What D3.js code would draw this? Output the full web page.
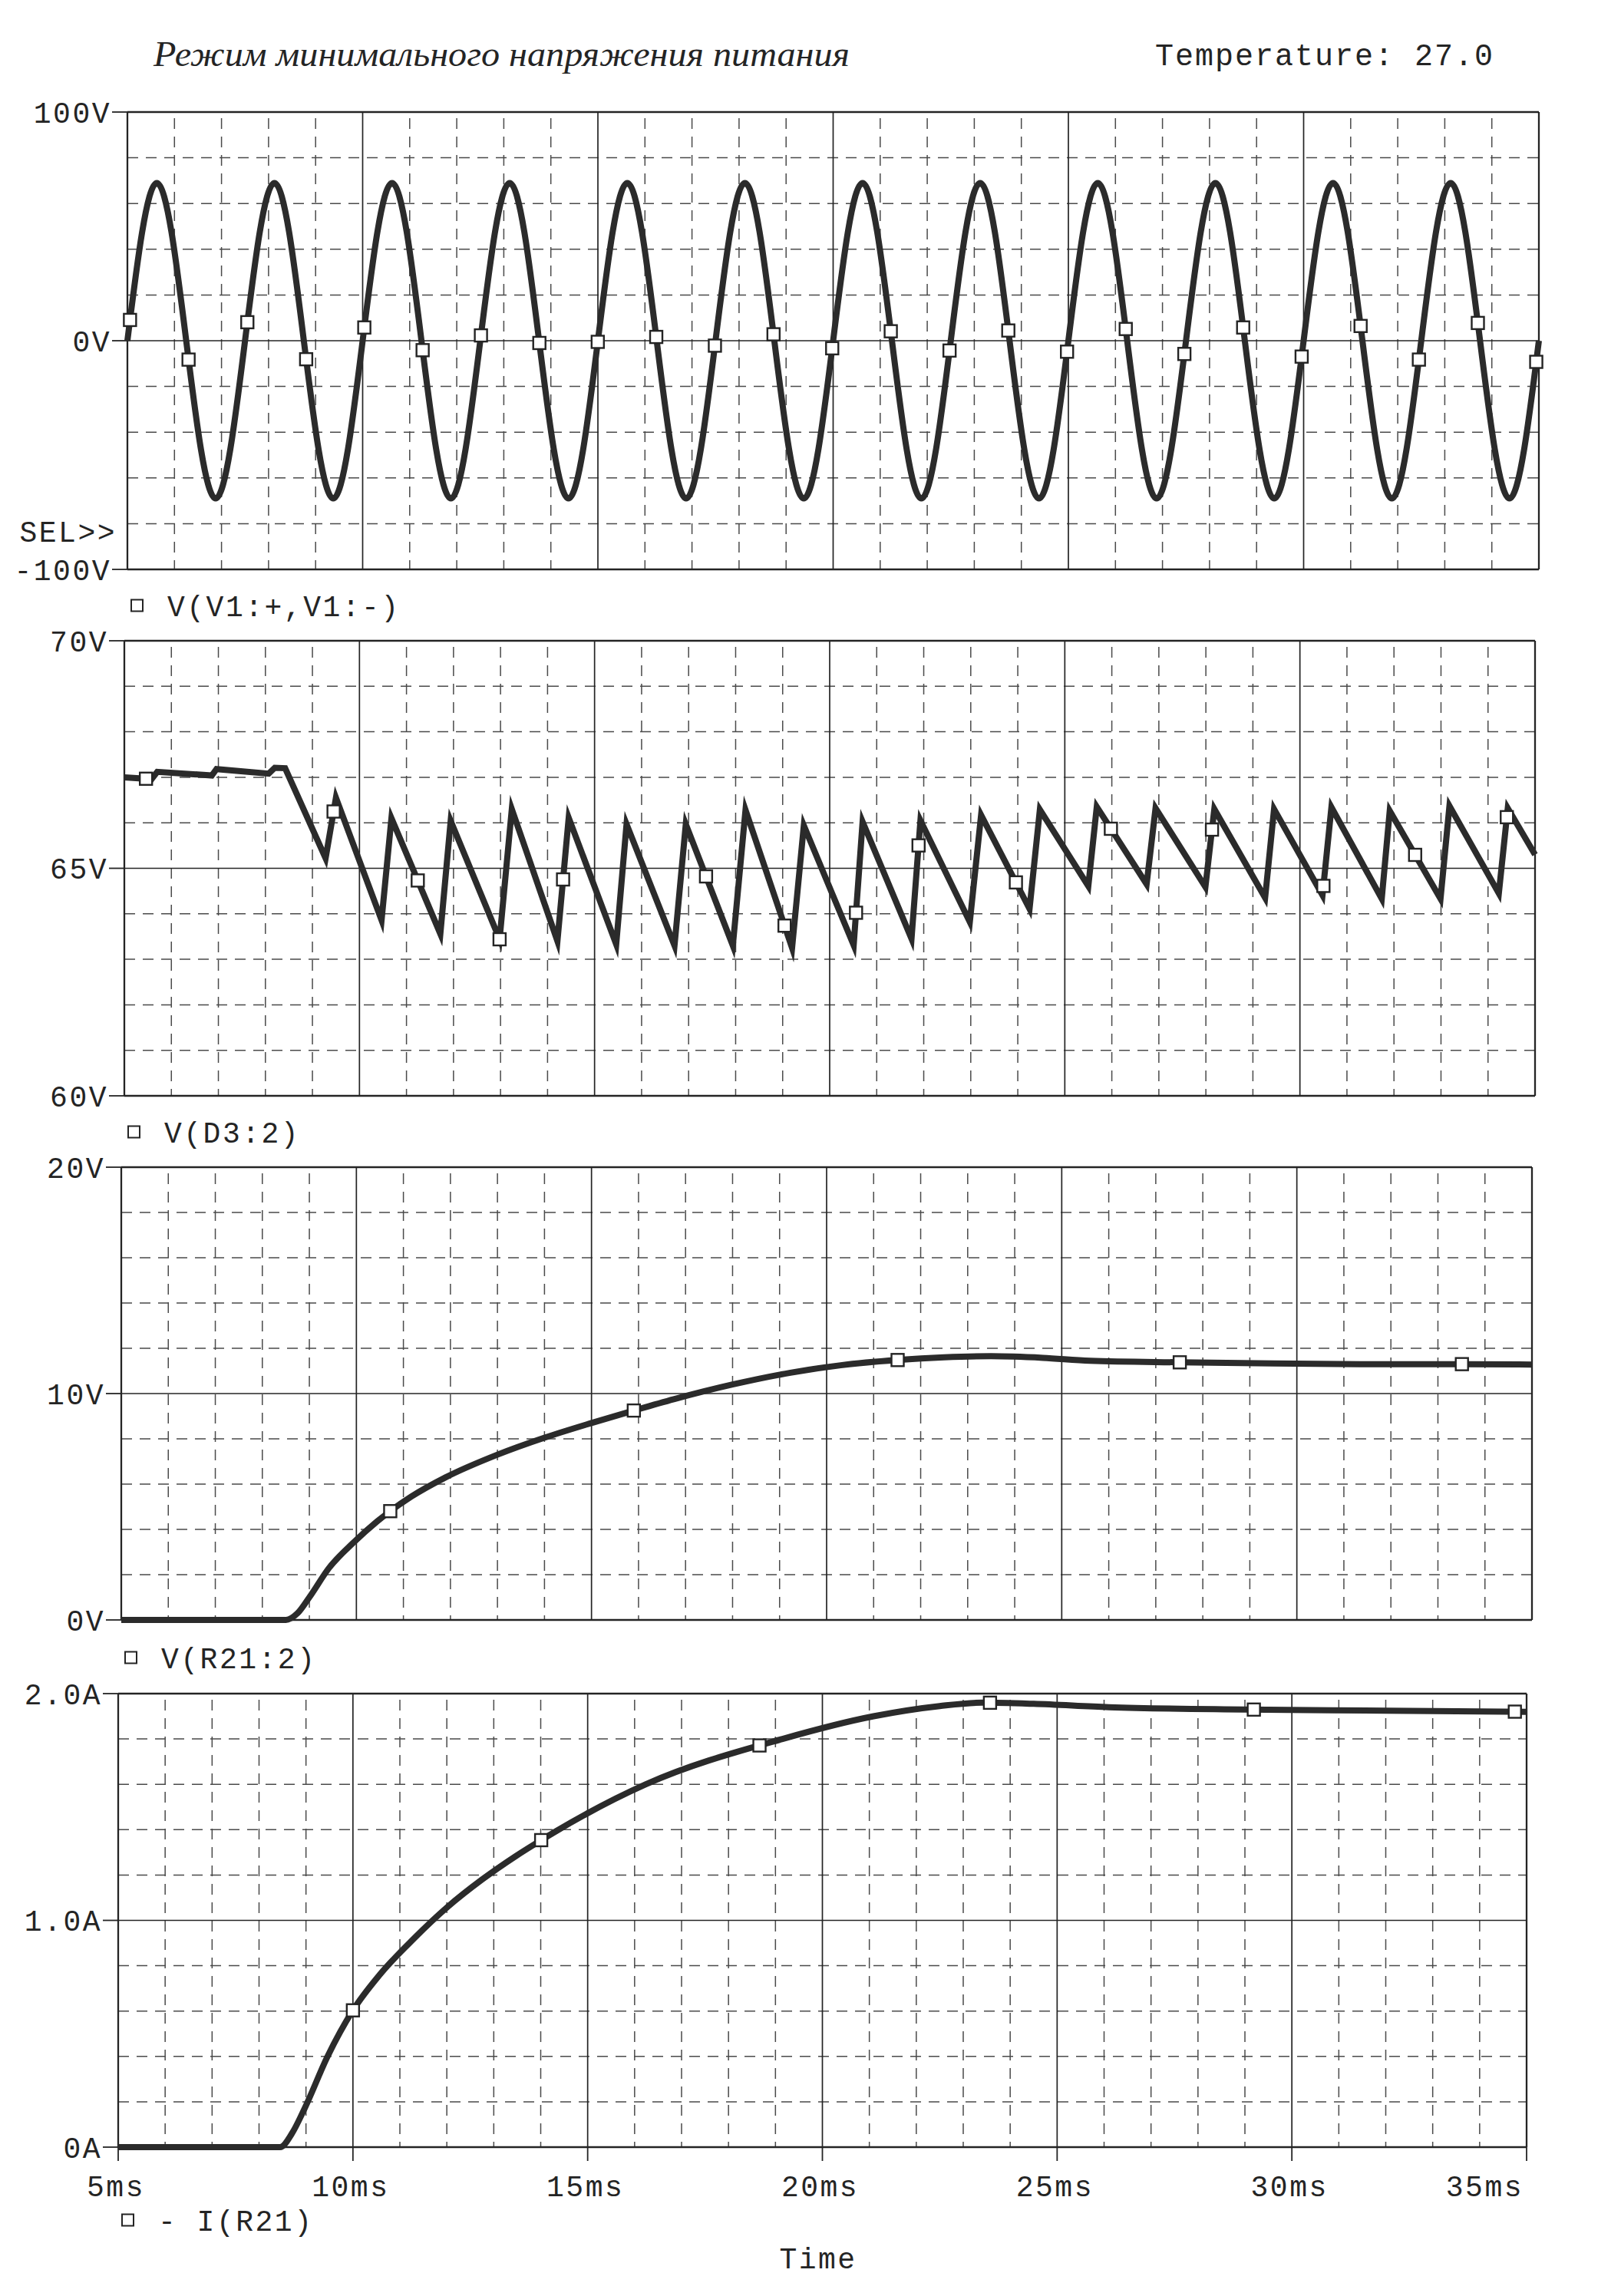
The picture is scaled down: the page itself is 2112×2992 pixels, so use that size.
<!DOCTYPE html>
<html><head><meta charset="utf-8">
<script src="https://cdn.jsdelivr.net/npm/d3@7"></script>
<style>body{margin:0;background:#fff}svg{display:block}</style>
</head><body>
<svg id="chart" width="2112" height="2992"></svg>
<script>
// ---------------- DATA ----------------
const titleText = "Режим минимального напряжения питания";
const tempText = "Temperature: 27.0";
const timeTicks = [5, 10, 15, 20, 25, 30, 35];
const timeTickLabels = ["5ms", "10ms", "15ms", "20ms", "25ms", "30ms", "35ms"];
const xAxisTitle = "Time";

// Panel 1: V(V1:+,V1:-)
const p1Ticks = [100, 0, -100];
const p1TickLabels = ["100V", "0V", "-100V"];
const p1Legend = "V(V1:+,V1:-)";
const sineT = [5, 5.625, 6.25, 6.875, 7.5, 8.125, 8.75, 9.375, 10, 10.625, 11.25, 11.875, 12.5,
  13.125, 13.75, 14.375, 15, 15.625, 16.25, 16.875, 17.5, 18.125, 18.75, 19.375, 20, 20.625,
  21.25, 21.875, 22.5, 23.125, 23.75, 24.375, 25, 25.625, 26.25, 26.875, 27.5, 28.125, 28.75,
  29.375, 30, 30.625, 31.25, 31.875, 32.5, 33.125, 33.75, 34.375, 35];
const sineV = [0, 69, 0, -69, 0, 69, 0, -69, 0, 69, 0, -69, 0, 69, 0, -69, 0, 69, 0, -69, 0, 69, 0, -69,
  0, 69, 0, -69, 0, 69, 0, -69, 0, 69, 0, -69, 0, 69, 0, -69, 0, 69, 0, -69, 0, 69, 0, -69, 0];
const p1MarkerT = [5.055, 6.30, 7.549, 8.799, 10.035, 11.275, 12.514, 13.756, 14.997, 16.24, 17.487,
  18.733, 19.98, 21.225, 22.474, 23.723, 24.971, 26.219, 27.465, 28.715, 29.958, 31.211, 32.45, 33.703, 34.944];

// Panel 2: V(D3:2)
const p2Ticks = [70, 65, 60];
const p2TickLabels = ["70V", "65V", "60V"];
const p2Legend = "V(D3:2)";
const rippleT = [5.0, 5.58, 5.7, 6.86, 6.96, 8.07, 8.2, 8.42, 9.28, 9.5, 10.47, 10.68, 11.72, 11.94,
  12.98, 13.24, 14.21, 14.45, 15.46, 15.68, 16.7, 16.94, 17.94, 18.21, 19.2, 19.45, 20.51, 20.7,
  21.74, 21.93, 22.98, 23.22, 24.25, 24.47, 25.5, 25.68, 26.74, 26.93, 27.99, 28.18, 29.26, 29.45,
  30.48, 30.67, 31.74, 31.91, 32.99, 33.18, 34.23, 34.42, 35.0];
const rippleV = [67.0, 66.96, 67.12, 67.04, 67.18, 67.08, 67.21, 67.2, 65.22, 66.55, 63.86, 66.1, 63.56, 66.04,
  63.44, 66.3, 63.4, 66.11, 63.33, 65.97, 63.3, 65.97, 63.3, 66.28, 63.25, 65.94, 63.31, 66.02,
  63.45, 66.05, 63.82, 66.17, 64.11, 66.29, 64.61, 66.35, 64.65, 66.32, 64.59, 66.3, 64.35, 66.3,
  64.41, 66.34, 64.33, 66.26, 64.33, 66.37, 64.45, 66.32, 65.3];
const p2MarkerT = [5.46, 9.45, 11.24, 12.98, 14.33, 17.37, 19.04, 20.56, 21.89, 23.96, 25.98, 28.13, 30.5, 32.45, 34.4];

// Panel 3: V(R21:2)
const p3Ticks = [20, 10, 0];
const p3TickLabels = ["20V", "10V", "0V"];
const p3Legend = "V(R21:2)";
const outT = [5, 8.5, 8.75, 9.0, 9.42, 9.93, 10.44, 11.17, 11.9, 13.0, 14.0, 15.0, 15.9, 16.75, 18.0, 19.23,
  20.3, 21.5, 22.5, 23.5, 24.6, 25.6, 27.5, 29.5, 31.5, 33.5, 35];
const outV = [0, 0, 0.3, 1.0, 2.3, 3.4, 4.35, 5.45, 6.3, 7.3, 8.05, 8.7, 9.25, 9.75, 10.4, 10.92,
  11.25, 11.48, 11.6, 11.65, 11.58, 11.45, 11.38, 11.33, 11.3, 11.3, 11.28];
const p3MarkerT = [10.72, 15.9, 21.51, 27.51, 33.51];

// Panel 4: - I(R21)
const p4Ticks = [2.0, 1.0, 0];
const p4TickLabels = ["2.0A", "1.0A", "0A"];
const p4Legend = "- I(R21)";
const curT = [5, 8.45, 8.7, 8.97, 9.46, 9.99, 10.57, 11.3, 12.02, 12.75, 13.48, 13.98, 14.3, 16.24, 19.15, 21.09, 22.5,
  23.4, 24.5, 26.1, 29.0, 32.0, 35];
const curA = [0, 0, 0.06, 0.17, 0.4, 0.6, 0.76, 0.92, 1.06, 1.18, 1.285, 1.35, 1.39, 1.6, 1.8, 1.9, 1.945,
  1.96, 1.955, 1.94, 1.93, 1.925, 1.92];
const p4MarkerT = [10.0, 14.01, 18.66, 23.57, 29.19, 34.75];

// ---------------- LAYOUT ----------------
const svg = d3.select("#chart");
const INK = "#242424";
const MONO = "'Liberation Mono', 'DejaVu Sans Mono', monospace";

const panels = [
  {L:166, R:2005, T:146, B:742, dom:[-100,100], ticks:p1Ticks, labels:p1TickLabels, legend:p1Legend,
   t:sineT, v:sineV, markers:p1MarkerT, curve:d3.curveNatural, legendY:789, join:"round"},
  {L:162, R:2000, T:835, B:1428, dom:[60,70], ticks:p2Ticks, labels:p2TickLabels, legend:p2Legend,
   t:rippleT, v:rippleV, markers:p2MarkerT, curve:d3.curveLinear, legendY:1475, join:"miter"},
  {L:158, R:1996, T:1521, B:2111, dom:[0,20], ticks:p3Ticks, labels:p3TickLabels, legend:p3Legend,
   t:outT, v:outV, markers:p3MarkerT, curve:d3.curveMonotoneX, legendY:2160, join:"round"},
  {L:154, R:1989, T:2207, B:2798, dom:[0,2], ticks:p4Ticks, labels:p4TickLabels, legend:p4Legend,
   t:curT, v:curA, markers:p4MarkerT, curve:d3.curveMonotoneX, legendY:2893, join:"round"}
];

// Title
svg.append("text").attr("x", 200).attr("y", 86)
  .attr("font-family", "'Liberation Serif', serif").attr("font-style", "italic")
  .attr("font-size", 47).attr("fill", INK)
  .attr("textLength", 907).attr("lengthAdjust", "spacingAndGlyphs")
  .text(titleText);
svg.append("text").attr("x", 1505).attr("y", 85)
  .attr("font-family", MONO).attr("font-size", 40).attr("letter-spacing", 2)
  .attr("fill", INK).text(tempText);

function yAtX(node, xt) {
  const len = node.getTotalLength();
  let lo = 0, hi = len;
  for (let i = 0; i < 40; i++) {
    const mid = (lo + hi) / 2;
    if (node.getPointAtLength(mid).x < xt) lo = mid; else hi = mid;
  }
  return node.getPointAtLength((lo + hi) / 2).y;
}

panels.forEach((p, pi) => {
  const x = d3.scaleLinear().domain([5, 35]).range([p.L, p.R]);
  const y = d3.scaleLinear().domain(p.dom).range([p.B, p.T]);
  const g = svg.append("g");
  const span = p.dom[1] - p.dom[0];
  const mid = (p.dom[0] + p.dom[1]) / 2;

  // dashed minor grid
  const vMinor = d3.range(6, 35).filter(t => t % 5 !== 0);
  g.selectAll(".vm").data(vMinor).join("line")
    .attr("x1", d => x(d)).attr("x2", d => x(d)).attr("y1", p.T + 8).attr("y2", p.B)
    .attr("stroke", "#4a4a4a").attr("stroke-width", 1.5).attr("stroke-dasharray", "14,10");
  const hMinor = d3.range(1, 10).filter(k => k !== 5).map(k => p.dom[0] + k * span / 10);
  g.selectAll(".hm").data(hMinor).join("line")
    .attr("x1", p.L).attr("x2", p.R).attr("y1", d => y(d)).attr("y2", d => y(d))
    .attr("stroke", "#4a4a4a").attr("stroke-width", 1.5).attr("stroke-dasharray", "14,10");

  // solid major grid
  g.selectAll(".vM").data(timeTicks).join("line")
    .attr("x1", d => x(d)).attr("x2", d => x(d)).attr("y1", p.T).attr("y2", p.B)
    .attr("stroke", INK).attr("stroke-width", d => (d === 5 || d === 35) ? 2.3 : 1.7);
  g.selectAll(".hM").data([p.dom[0], mid, p.dom[1]]).join("line")
    .attr("x1", p.L).attr("x2", p.R).attr("y1", d => y(d)).attr("y2", d => y(d))
    .attr("stroke", INK).attr("stroke-width", d => d === mid ? 1.7 : 2.3);

  // y ticks & labels
  g.selectAll(".yt").data(p.ticks).join("line")
    .attr("x1", p.L - 20).attr("x2", p.L).attr("y1", d => y(d)).attr("y2", d => y(d))
    .attr("stroke", INK).attr("stroke-width", 1.8);
  g.selectAll(".yl").data(p.ticks).join("text")
    .attr("x", p.L - 21).attr("y", d => y(d)).attr("dy", "0.36em")
    .attr("text-anchor", "end").attr("font-family", MONO).attr("font-size", 38)
    .attr("letter-spacing", 2.5).attr("fill", INK)
    .text((d, i) => p.labels[i]);

  if (pi === 0) {
    g.append("text").attr("x", p.L - 14).attr("y", 692).attr("dy", "0.36em")
      .attr("text-anchor", "end").attr("font-family", MONO).attr("font-size", 38)
      .attr("letter-spacing", 2.5).attr("fill", INK).text("SEL>>");
  }

  // x ticks on last panel
  if (pi === panels.length - 1) {
    g.selectAll(".xt").data(timeTicks).join("line")
      .attr("x1", d => x(d)).attr("x2", d => x(d)).attr("y1", p.B).attr("y2", p.B + 18)
      .attr("stroke", INK).attr("stroke-width", 1.8);
    g.selectAll(".xl").data(timeTicks).join("text")
      .attr("x", (d, i) => i === timeTicks.length - 1 ? x(d) - 4 : x(d) - 3)
      .attr("y", 2848).attr("dy", "0.36em")
      .attr("text-anchor", (d, i) => i === timeTicks.length - 1 ? "end" : "middle")
      .attr("font-family", MONO).attr("font-size", 38).attr("letter-spacing", 2.5)
      .attr("fill", INK).text((d, i) => timeTickLabels[i]);
    svg.append("text").attr("x", 1066).attr("y", 2942).attr("dy", "0.36em")
      .attr("text-anchor", "middle").attr("font-family", MONO).attr("font-size", 38)
      .attr("letter-spacing", 2.5).attr("fill", INK).text(xAxisTitle);
  }

  // trace
  const pts = p.t.map((t, i) => [t, p.v[i]]);
  const line = d3.line().x(d => x(d[0])).y(d => y(d[1])).curve(p.curve);
  const path = g.append("path").attr("d", line(pts))
    .attr("fill", "none").attr("stroke", "#2b2b2b").attr("stroke-width", 8)
    .attr("stroke-linejoin", p.join).attr("stroke-miterlimit", 5).attr("stroke-linecap", "butt");

  // markers on the trace
  const node = path.node();
  g.selectAll(".mk").data(p.markers).join("rect")
    .attr("x", d => x(d) - 8).attr("y", d => yAtX(node, x(d)) - 8)
    .attr("width", 16).attr("height", 16)
    .attr("fill", "#fff").attr("stroke", INK).attr("stroke-width", 2.4);

  // legend
  const lx = p.L + 5;
  g.append("rect").attr("x", lx).attr("y", p.legendY - 7.5).attr("width", 15).attr("height", 15)
    .attr("fill", "#fff").attr("stroke", INK).attr("stroke-width", 2);
  g.append("text").attr("x", lx + 47).attr("y", p.legendY).attr("dy", "0.36em")
    .attr("font-family", MONO).attr("font-size", 38).attr("letter-spacing", 2.5)
    .attr("fill", INK).text(p.legend);
});
</script>
</body></html>
